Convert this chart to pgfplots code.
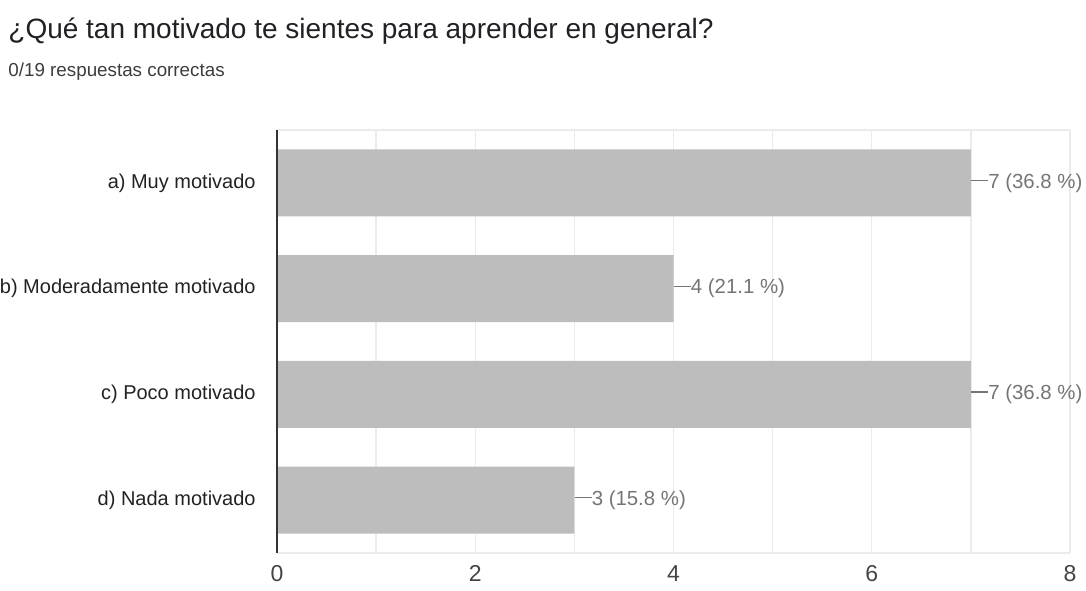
\documentclass[border=0pt]{standalone}
\usepackage{pgfplots}
\pgfplotsset{compat=1.18}
\usepackage{fontspec}
\setmainfont{Liberation Sans}

\definecolor{barcol}{HTML}{BDBDBD}
\definecolor{gridcol}{HTML}{EBEBEB}
\definecolor{valcol}{HTML}{757575}
\definecolor{labcol}{HTML}{222222}
\definecolor{tickcol}{HTML}{444444}
\definecolor{titlecol}{HTML}{202124}
\definecolor{subcol}{HTML}{3C3C3C}
\definecolor{axiscol}{HTML}{333333}

\begin{document}
\begin{tikzpicture}
\useasboundingbox (0,0) rectangle (543pt,295pt);

\node[anchor=base west, inner sep=0pt, text=titlecol,
      font=\fontsize{14}{16}\selectfont] at (4pt,275.5pt)
  {¿Qué tan motivado te sientes para aprender en general?};
\node[anchor=base west, inner sep=0pt, text=subcol,
      font=\fontsize{9.4}{11}\selectfont] at (4pt,256.5pt)
  {0/19 respuestas correctas};

\begin{axis}[
    at={(138.5pt,18.5pt)}, anchor=south west,
    scale only axis,
    width=396.5pt, height=211.5pt,
    xbar, bar width=33.5pt,
    y dir=reverse,
    xmin=0, xmax=8,
    ymin=-0.5, ymax=3.5,
    ytick={0,1,2,3},
    yticklabels={a) Muy motivado, b) Moderadamente motivado, c) Poco motivado, d) Nada motivado},
    xtick={0,2,4,6,8},
    minor xtick={1,3,5,7},
    xmajorgrids, xminorgrids,
    grid style={gridcol, line width=0.7pt},
    minor grid style={gridcol, line width=0.7pt},
    major tick length=0pt, minor tick length=0pt,
    axis line style={draw=none},
    /pgf/number format/assume math mode=true,
    yticklabel style={inner sep=0pt, xshift=-10.5pt, text=labcol,
                      font=\fontsize{10}{12}\selectfont},
    xticklabel style={inner sep=0pt, yshift=-6pt, text=tickcol,
                      font=\fontsize{11.5}{13}\selectfont},
    point meta=explicit symbolic,
    nodes near coords={\textcolor{valcol}{\rule[0.34em]{8.5pt}{0.7pt}}\pgfplotspointmeta},
    nodes near coords align={horizontal},
    every node near coord/.append style={anchor=west, inner sep=0pt,
                      text=valcol, font=\fontsize{10.2}{12}\selectfont},
    clip=false,
]
\addplot[fill=barcol, draw=none] coordinates {
    (7,0) [7 (36.8 \%)]
    (4,1) [4 (21.1 \%)]
    (7,2) [7 (36.8 \%)]
    (3,3) [3 (15.8 \%)]
};
\draw[gridcol, line width=0.7pt] (rel axis cs:0,0) -- (rel axis cs:1,0);
\draw[gridcol, line width=0.7pt] (rel axis cs:0,1) -- (rel axis cs:1,1);
\draw[axiscol, line width=0.8pt] (rel axis cs:0,0) -- (rel axis cs:0,1);
\end{axis}
\end{tikzpicture}
\end{document}
